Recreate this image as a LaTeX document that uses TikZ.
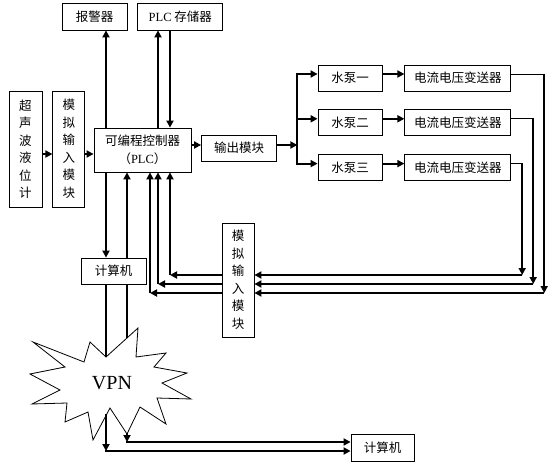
\documentclass[tikz,border=0pt]{standalone}
\usepackage{fontspec}
\setmainfont{Liberation Serif}
\newfontfamily\cjk{Noto Sans CJK SC}
\usepackage{tikz}
\usetikzlibrary{arrows.meta,positioning,backgrounds}
\newcommand\zh{\cjk\fontsize{12.5}{17.5}\selectfont}
\tikzset{
  box/.style  ={rectangle, draw=black, line width=0.8pt, fill=white,
                align=center, font=\zh, inner sep=0pt},
  fl/.style   ={-{Triangle[length=7pt,width=7pt]}, line width=2pt},
  ln/.style   ={line width=2pt},
  thn/.style  ={line width=0.9pt},
}
\begin{document}
\begin{tikzpicture}[x=1pt,y=-1pt]
  \useasboundingbox (0,0) rectangle (555,466);
  % sensing side
  \node[box,minimum width=33pt,minimum height=116pt] (sensor) at (25.5,149) {超\\声\\波\\液\\位\\计};
  \node[box,minimum width=32pt,minimum height=116pt,right=10pt of sensor] (ai1) {模\\拟\\输\\入\\模\\块};
  \node[box,minimum width=97pt,minimum height=44pt] (plc) at (142.5,150) {可编程控制器\\（{\rmfamily PLC}）};
  \node[box,minimum width=65pt,minimum height=27pt] (alarm) at (94.5,16.5) {报警器};
  \node[box,minimum width=85pt,minimum height=27pt,right=10pt of alarm] (mem) {{\rmfamily PLC} 存储器};
  \node[box,minimum width=75pt,minimum height=26pt] (out) at (239,148) {输出模块};
  % pumps
  \node[box,minimum width=64pt,minimum height=26pt] (p1) at (350,78) {水泵一};
  \node[box,minimum width=64pt,minimum height=26pt,below=18pt of p1] (p2) {水泵二};
  \node[box,minimum width=64pt,minimum height=26pt,below=18pt of p2] (p3) {水泵三};
  \node[box,minimum width=106pt,minimum height=26pt,right=22pt of p1] (t1) {电流电压变送器};
  \node[box,minimum width=106pt,minimum height=26pt,right=22pt of p2] (t2) {电流电压变送器};
  \node[box,minimum width=106pt,minimum height=26pt,right=22pt of p3] (t3) {电流电压变送器};
  \node[box,minimum width=32pt,minimum height=114pt] (ai2) at (238,280) {模\\拟\\输\\入\\模\\块};
  \node[box,minimum width=65pt,minimum height=26pt] (comp1) at (113.5,271) {计算机};
  \node[box,minimum width=63pt,minimum height=27pt] (comp2) at (382.5,447.5) {计算机};
  % vpn cloud
  \draw[fill=white,line width=0.8pt] (33,342) -- (84,362) -- (90,342) -- (106,357) -- (138,328)
    -- (136,357) -- (166,353) -- (154,367) -- (187,373) -- (162,383) -- (191,399) -- (157,398)
    -- (166,424) -- (140,407) -- (127,434) -- (110,408) -- (93,440) -- (88,412) -- (65,422)
    -- (67,403) -- (32,404) -- (60,390) -- (30,374) -- (65,367) -- cycle;
  \node[font=\fontsize{20}{24}\selectfont] (vpn) at (112,383) {VPN};
  \coordinate (vt1) at (106,357);
  \coordinate (vt2) at (127,340);
  \coordinate (vb1) at (106,414);
  \coordinate (vb2) at (127,433);
  \coordinate (k1) at (106,451);
  \coordinate (k2) at (127,442);
  % columns and rows
  \coordinate (cA) at (106,0);
  \coordinate (cB) at (127,0);
  \coordinate (cC) at (150,0);
  \coordinate (cD) at (158,0);
  \coordinate (cE) at (170,0);
  \coordinate (h1) at (0,275);
  \coordinate (h2) at (0,284);
  \coordinate (h3) at (0,293);
  % main chain
  \draw[fl] ([yshift=-5pt]sensor.east) -- ([yshift=-5pt]ai1.west);
  \draw[fl] ([yshift=-5pt]ai1.east) -- ([yshift=-5pt]ai1.east -| plc.west);
  \draw[fl] ([yshift=5pt]plc.east) -- ([yshift=5pt]plc.east -| out.west);
  \draw[fl] ([yshift=5pt]plc.east -| out.east) -- ++(20.5pt,0) coordinate (jn);
  \draw[fl] (jn) |- ([yshift=4pt]p1.west);
  \draw[fl] (jn) |- ([yshift=4pt]p2.west);
  \draw[fl] (jn) |- ([yshift=4pt]p3.west);
  \draw[fl] ([yshift=4pt]p1.east) -- ([yshift=4pt]t1.west);
  \draw[fl] ([yshift=4pt]p2.east) -- ([yshift=4pt]t2.west);
  \draw[fl] ([yshift=4pt]p3.east) -- ([yshift=4pt]t3.west);
  % feedback from transmitters
  \draw[thn] ([yshift=4pt]t1.east) -- ++(33pt,0) coordinate (r1);
  \draw[thn] ([yshift=4pt]t2.east) -- ++(22pt,0) coordinate (r2);
  \draw[thn] ([yshift=4pt]t3.east) -- ++(11pt,0) coordinate (r3);
  \draw[fl] ([yshift=0.45pt]r1) -- (r1 |- h3);
  \draw[fl] ([yshift=0.45pt]r2) -- (r2 |- h2);
  \draw[fl] ([yshift=0.45pt]r3) -- (r3 |- h1);
  \draw[fl] (r1 |- h3) -- (h3 -| ai2.east);
  \draw[fl] (r2 |- h2) -- (h2 -| ai2.east);
  \draw[fl] (r3 |- h1) -- (h1 -| ai2.east);
  \draw[fl] (h1 -| ai2.west) -- (h1 -| cE);
  \draw[fl] (h2 -| ai2.west) -- (h2 -| cD);
  \draw[fl] (h3 -| ai2.west) -- (h3 -| cC);
  \draw[fl] (h1 -| cE) -- (plc.south -| cE);
  \draw[fl] (h2 -| cD) -- (plc.south -| cD);
  \draw[fl] (h3 -| cC) -- (plc.south -| cC);
  % alarm, memory
  \draw[fl] (plc.north -| cA) -- (alarm.south -| cA);
  \draw[fl] (plc.north -| cD) -- (mem.south -| cD);
  \draw[fl] (mem.south -| cE) -- (plc.north -| cE);
  % computers and vpn
  \draw[fl] (plc.south -| cA) -- (comp1.north -| cA);
  \draw[ln] (comp1.south -| cA) -- (vt1);
  \begin{scope}[on background layer]
    \draw[fl] (vt2) -- (plc.south -| cB);
  \end{scope}
  \draw[fl] (vb1) -- (k1);
  \draw[fl] (vb2) -- (k2);
  \draw[fl] ([xshift=-1pt]k1) -- (k1 -| comp2.west);
  \draw[fl] ([xshift=-1pt]k2) -- (k2 -| comp2.west);
\end{tikzpicture}
\end{document}
